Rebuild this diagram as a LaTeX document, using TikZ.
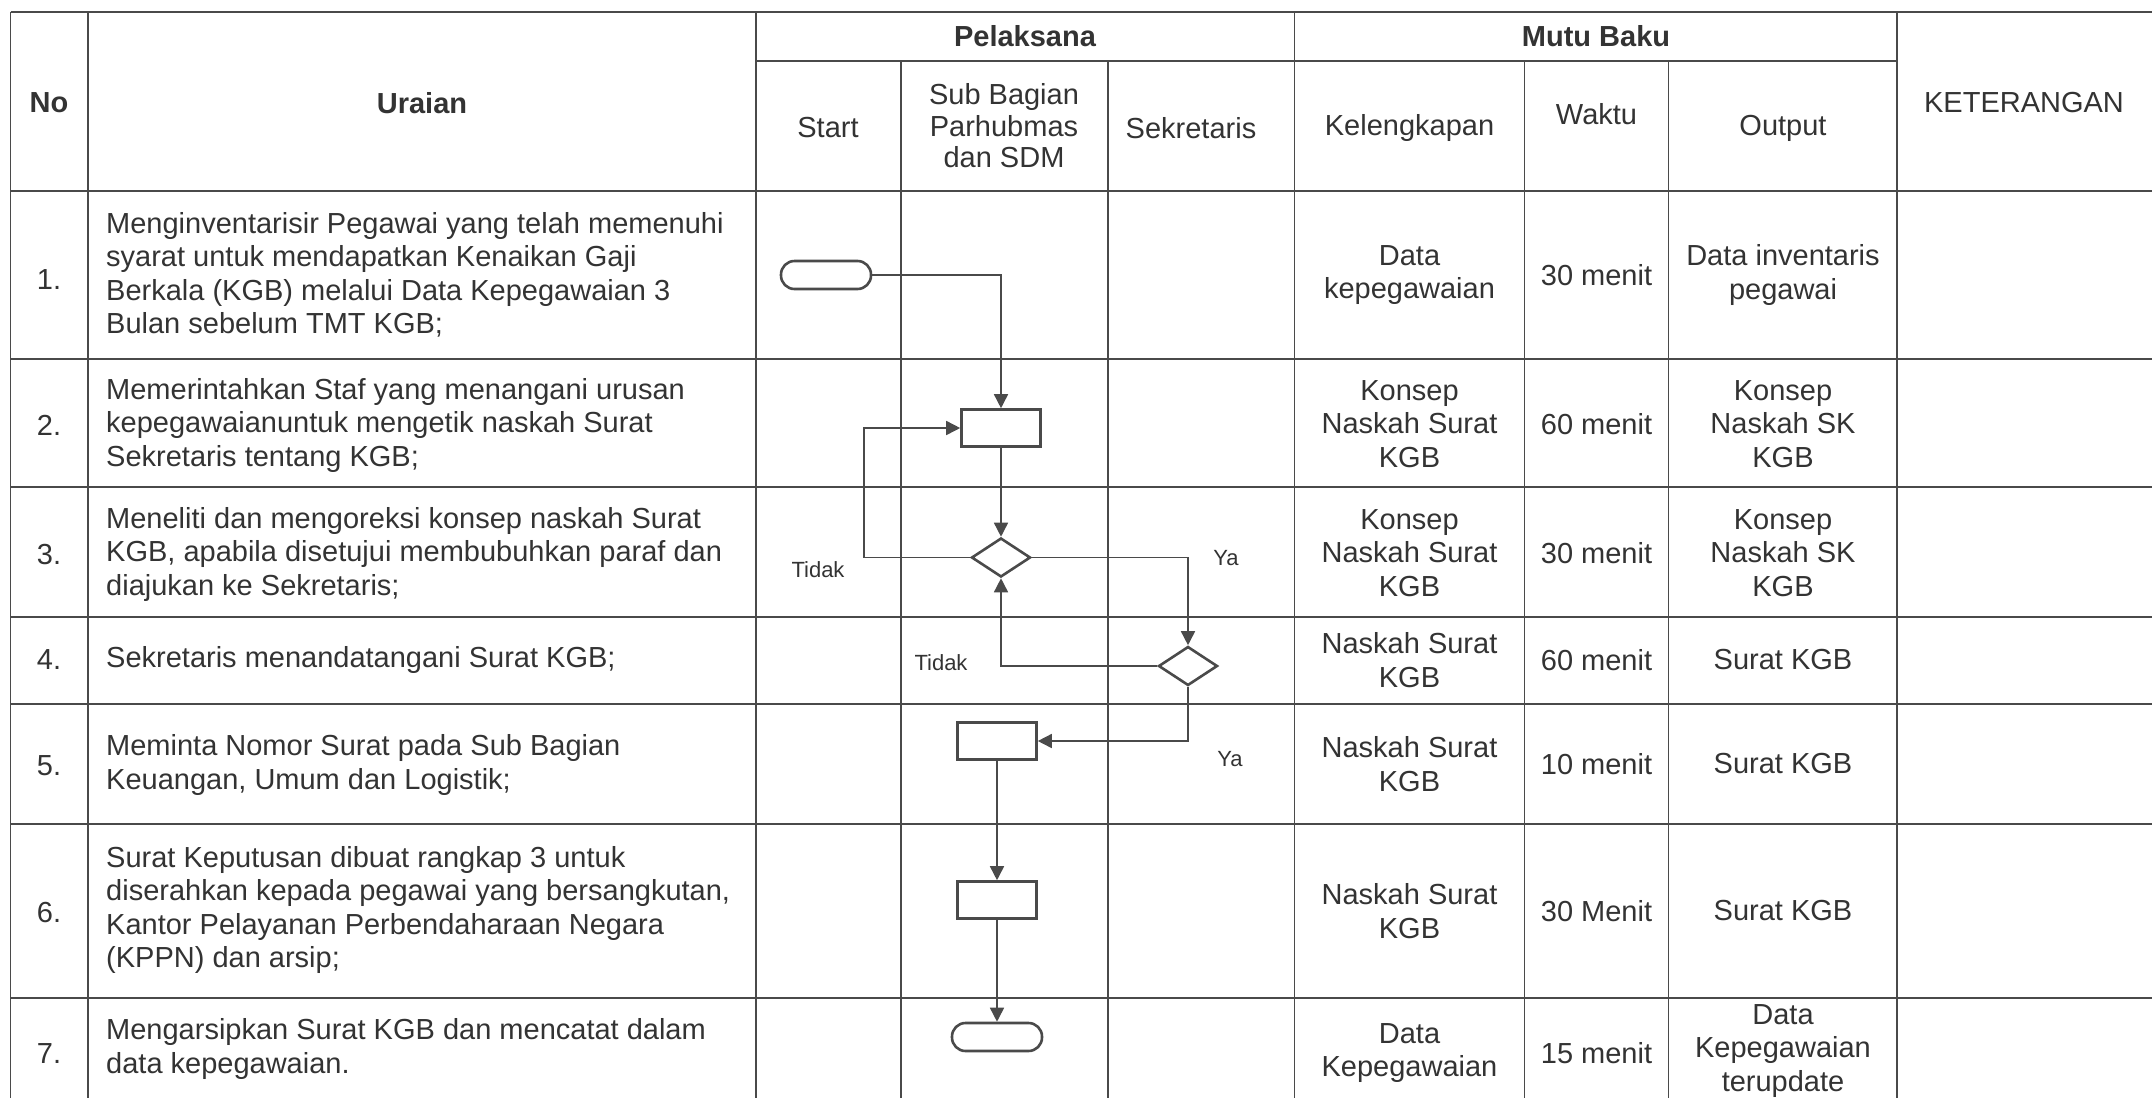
\documentclass[tikz,border=0pt]{standalone}
\usepackage{fontspec}
\setmainfont{Liberation Sans}
\usetikzlibrary{arrows.meta,shapes.geometric}
\definecolor{ink}{HTML}{333333}
\definecolor{rulec}{HTML}{4A4A4A}
\newcommand\fbody{\fontsize{29}{33.5}\selectfont}
\newcommand\fsmall{\fontsize{22}{26}\selectfont}
\begin{document}
\begin{tikzpicture}[x=1pt,y=-1pt,
  gridline/.style={draw=rulec,line width=1.6pt},
  txt/.style={font=\fbody,text=ink,align=center,inner sep=0pt},
  hdr/.style={txt,font=\fbody\bfseries},
  desc/.style={txt,align=left,anchor=west},
  proc/.style={draw=rulec,line width=2.6pt,rectangle,minimum width=79pt,minimum height=37pt,inner sep=0pt},
  term/.style={draw=rulec,line width=2.6pt,rectangle,rounded corners=13.5pt,minimum width=90pt,minimum height=28pt,inner sep=0pt},
  dec/.style={draw=rulec,line width=2.6pt,diamond,minimum width=59pt,minimum height=39pt,inner sep=0pt},
  conn/.style={draw=rulec,line width=1.6pt,-{Triangle[length=14pt,width=14pt]}},
  lbl/.style={font=\fsmall,text=ink,inner sep=0pt}]
\useasboundingbox (0,0) rectangle (2152,1098);
\fill[white] (0,0) rectangle (2152,1098);

% ---------- grid ----------
\draw[gridline] (10.5,11.7) -- (2152,11.7);
\draw[gridline] (756,61) -- (1897,61);
\foreach \yy in {190.7,359,487,616.7,704,824,998}
  \draw[gridline] (10.5,\yy) -- (2152,\yy);
\foreach \xx in {10.5,88,756,1294.6,1897}
  \draw[gridline] (\xx,11.7) -- (\xx,1098);
\foreach \xx in {901,1108,1524.4,1668.5}
  \draw[gridline] (\xx,61) -- (\xx,1098);

% ---------- header ----------
\node[hdr] (hNo) at (49,103) {No};
\node[hdr] (hUr) at (422,103) {Uraian};
\node[hdr] (hPel) at (1025,36) {Pelaksana};
\node[hdr] (hMutu) at (1596,36) {Mutu Baku};
\node[txt] (hStart) at (828,128) {Start};
\node[txt,font=\fontsize{29}{31.5}\selectfont] (hSub) at (1004,126) {Sub Bagian\\Parhubmas\\dan SDM};
\node[txt] (hSek) at (1191,128) {Sekretaris};
\node[txt] (hKel) at (1409.5,128) {Kelengkapan};
\node[txt] (hWak) at (1596.5,114) {Waktu};
\node[txt] (hOut) at (1783,128) {Output};
\node[txt] (hKet) at (2024,103) {KETERANGAN};

% ---------- rows: numbers ----------
\node[txt] (n1) at (49,280) {1.};
\node[txt] (n2) at (49,425) {2.};
\node[txt] (n3) at (49,555) {3.};
\node[txt] (n4) at (49,660) {4.};
\node[txt] (n5) at (49,766) {5.};
\node[txt] (n6) at (49,913) {6.};
\node[txt] (n7) at (49,1054) {7.};

% ---------- rows: uraian ----------
\node[desc] (u1) at (106,275) {Menginventarisir Pegawai yang telah memenuhi\\syarat untuk mendapatkan Kenaikan Gaji\\Berkala (KGB) melalui Data Kepegawaian 3\\Bulan sebelum TMT KGB;};
\node[desc] (u2) at (106,425) {Memerintahkan Staf yang menangani urusan\\kepegawaianuntuk mengetik naskah Surat\\Sekretaris tentang KGB;};
\node[desc] (u3) at (106,554) {Meneliti dan mengoreksi konsep naskah Surat\\KGB, apabila disetujui membubuhkan paraf dan\\diajukan ke Sekretaris;};
\node[desc] (u4) at (106,660) {Sekretaris menandatangani Surat KGB;};
\node[desc] (u5) at (106,765) {Meminta Nomor Surat pada Sub Bagian\\Keuangan, Umum dan Logistik;};
\node[desc] (u6) at (106,910) {Surat Keputusan dibuat rangkap 3 untuk\\diserahkan kepada pegawai yang bersangkutan,\\Kantor Pelayanan Perbendaharaan Negara\\(KPPN) dan arsip;};
\node[desc] (u7) at (106,1049) {Mengarsipkan Surat KGB dan mencatat dalam\\data kepegawaian.};

% ---------- rows: mutu baku ----------
\node[txt] (k1) at (1409.5,275) {Data\\kepegawaian};
\node[txt] (w1) at (1596.5,275) {30 menit};
\node[txt] (o1) at (1783,275) {Data inventaris\\pegawai};
\node[txt] (k2) at (1409.5,424) {Konsep\\Naskah Surat\\KGB};
\node[txt] (w2) at (1596.5,424) {60 menit};
\node[txt] (o2) at (1783,424) {Konsep\\Naskah SK\\KGB};
\node[txt] (k3) at (1409.5,553) {Konsep\\Naskah Surat\\KGB};
\node[txt] (w3) at (1596.5,553) {30 menit};
\node[txt] (o3) at (1783,553) {Konsep\\Naskah SK\\KGB};
\node[txt] (k4) at (1409.5,660) {Naskah Surat\\KGB};
\node[txt] (w4) at (1596.5,660) {60 menit};
\node[txt] (o4) at (1783,660) {Surat KGB};
\node[txt] (k5) at (1409.5,764) {Naskah Surat\\KGB};
\node[txt] (w5) at (1596.5,764) {10 menit};
\node[txt] (o5) at (1783,764) {Surat KGB};
\node[txt] (k6) at (1409.5,911) {Naskah Surat\\KGB};
\node[txt] (w6) at (1596.5,911) {30 Menit};
\node[txt] (o6) at (1783,911) {Surat KGB};
\node[txt] (k7) at (1409.5,1053) {Data\\Kepegawaian};
\node[txt] (w7) at (1596.5,1053) {15 menit};
\node[txt] (o7) at (1783,1051) {Data\\Kepegawaian\\terupdate};

% ---------- flowchart ----------
\node[term] (start) at (826,275) {};
\node[proc] (box1) at (1001,428) {};
\node[dec] (dia1) at (1001,557.5) {};
\node[dec] (dia2) at (1188,666) {};
\node[proc] (box2) at (997,741) {};
\node[proc] (box3) at (997,900) {};
\node[term] (stop) at (997,1037) {};
\coordinate (lp1) at (864,428);

\draw[conn] (start.east) -| (box1.north);
\draw[conn] (box1.south) -- (dia1.north);
\draw[conn] (dia1.west) -| (lp1) -- (box1.west);
\draw[conn] (dia1.east) -| (dia2.north);
\draw[conn] (dia2.west) -| (dia1.south);
\draw[conn] (dia2.south) |- (box2.east);
\draw[conn] (box2.south) -- (box3.north);
\draw[conn] (box3.south) -- (stop.north);

\node[lbl] (t1) at (818,570) {Tidak};
\node[lbl] (y1) at (1226,558) {Ya};
\node[lbl] (t2) at (941,663) {Tidak};
\node[lbl] (y2) at (1230,759) {Ya};
\end{tikzpicture}
\end{document}
